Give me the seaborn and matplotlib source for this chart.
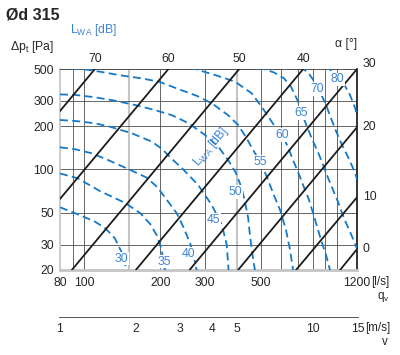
import numpy as np
import pandas as pd
import matplotlib
matplotlib.use("Agg")
import matplotlib.pyplot as plt
import matplotlib.ticker as mticker
import seaborn as sns

# ---------------- data ----------------
db_levels = [30, 35, 40, 45, 50, 55, 60, 65, 70, 80]

q_30 = [80, 92, 110, 121, 132, 140, 147]
dp_30 = [54.6, 49.6, 43.4, 39.0, 33.2, 26.8, 20]
q_35 = [80, 94, 115, 145, 166, 182, 194, 201, 206, 208]
dp_35 = [93.8, 86.9, 70.9, 58.5, 49.8, 41.8, 34.5, 28.5, 23.5, 20]
q_40 = [80, 92, 107, 124, 149, 176, 194, 212, 232, 246, 262, 272, 278]
dp_40 = [142.7, 138.2, 129.6, 116.4, 100.8, 88, 75.6, 61.4, 49.6, 40, 30.7, 24.2, 20]
q_45 = [80, 92, 110, 126, 154, 185, 203, 222, 243, 282, 319, 350, 366, 372]
dp_45 = [221, 217.5, 209.6, 198.5, 178.6, 156.1, 138.8, 118.3, 102.4, 78, 56.7, 41.1, 29.9, 20]
q_50 = [80, 92, 110, 132, 158.5, 190, 221.5, 258, 300, 339, 371, 398, 419, 432, 445, 452, 461, 473]
dp_50 = [333, 330, 318, 301, 281, 259, 239, 210, 174, 144, 116, 94.6, 74.4, 59.7, 45.8, 35, 26.7, 20]
q_55 = [80, 89, 103, 115, 141, 169, 199, 235, 279, 320, 370, 406, 436, 465, 496, 528, 558, 595, 628, 652, 670]
dp_55 = [512, 506, 494, 479, 450, 430, 406, 363, 325, 288, 239, 204, 168, 137, 113, 88.7, 68.6, 52.3, 38, 27.5, 20]
q_60 = [262, 282, 329, 395, 459, 503, 535, 568, 606, 640, 670, 701, 734, 775, 819, 865, 905, 938]
dp_60 = [516, 492, 454, 408, 339, 273, 233, 198.5, 174, 143, 116, 96.1, 78, 61.4, 44.6, 32.3, 25.4, 20]
q_65 = [487, 563, 617, 658, 688, 711, 724, 754, 796, 841, 881, 922, 965, 1010, 1047, 1086, 1126, 1168, 1222]
dp_65 = [516, 473, 430, 375, 319, 281, 247, 207, 163, 132, 107.5, 87.3, 72, 59.4, 49.8, 42.5, 36.8, 31.8, 25.9]
q_70 = [714, 775, 811, 838, 872, 905, 930, 956, 991, 1047, 1106, 1157, 1222]
dp_70 = [525, 462, 412, 363, 324, 281, 247, 217.5, 185, 148, 122, 102.4, 79.3]
q_80 = [897, 965, 1010, 1076, 1126, 1179, 1222]
dp_80 = [525, 477, 426, 381, 330, 268, 214]

label_q = [139.5, 206.5, 258, 324, 396, 495, 604, 724, 838, 1005]
label_dp = [24, 22.9, 26, 44.6, 69.7, 113.3, 173, 247, 365, 423]

alpha_vals = [70, 60, 50, 40, 30, 20, 10, 0]
alpha_q_start = [80, 80, 89.1, 159.7, 260.6, 405.6, 688, 1028]
alpha_dp_start = [255, 62.4, 20, 20, 20, 20, 20, 20]
alpha_q_end = [110, 215, 410, 735, 1200, 1200, 1200, 1200]
alpha_dp_end = [500, 500, 500, 500, 500, 196.6, 64.1, 27.9]

q_ticks = [80, 100, 200, 300, 500, 1200]
dp_ticks = [20, 30, 50, 100, 200, 300, 500]
q_grid = [90, 100, 200, 300, 500, 600, 700, 800, 900, 1000]
q_grid_light = [150, 400]
dp_grid = [30, 50, 100, 200, 300]
v_ticks = [1, 2, 3, 4, 5, 10, 15]
v_minor = [6, 7, 8, 9, 11, 12, 13, 14]
v_light = [4, 8]

# ---------------- style ----------------
sns.set_style("white")
plt.rcParams["font.family"] = ["Liberation Sans", "DejaVu Sans"]
plt.rcParams["mathtext.fontset"] = "custom"
plt.rcParams["mathtext.rm"] = "Liberation Sans"
plt.rcParams["mathtext.it"] = "Liberation Sans:italic"
plt.rcParams["mathtext.bf"] = "Liberation Sans:bold"

CURVE_BLUE = "#1479c9"
LABEL_BLUE = "#3f84d4"
GRID = "#4d4d4d"
LIGHT = "#c4c4c4"
FS = 8.8
FS_UNIT = 8.4

W, H = 400, 355
fig = plt.figure(figsize=(W / 100, H / 100), dpi=100)
ax = fig.add_axes([60 / W, 1 - 270 / H, 297 / W, 201 / H])
ax.set_xscale("log")
ax.set_yscale("log")
ax.set_xlim(80, 1200)
ax.set_ylim(20, 500)

for g in q_grid:
    ax.axvline(g, color=GRID, lw=0.6, zorder=1)
for g in q_grid_light:
    ax.axvline(g, color=LIGHT, lw=1.5, zorder=1)
for g in dp_grid:
    ax.axhline(g, color=GRID, lw=0.6, zorder=1)

# LWA curves
curves_q = [q_30, q_35, q_40, q_45, q_50, q_55, q_60, q_65, q_70, q_80]
curves_dp = [dp_30, dp_35, dp_40, dp_45, dp_50, dp_55, dp_60, dp_65, dp_70, dp_80]
rows = []
for lvl, qs, ps in zip(db_levels, curves_q, curves_dp):
    for q, p in zip(qs, ps):
        rows.append({"curve": lvl, "q": q, "dp": p})
df_lwa = pd.DataFrame(rows)
sns.lineplot(data=df_lwa, x="q", y="dp", units="curve", estimator=None, sort=False,
             color=CURVE_BLUE, lw=1.3, linestyle=(0, (4.4, 2.4)), ax=ax, zorder=3,
             legend=False)

# damper angle lines
rows = []
for a, q0, p0, q1, p1 in zip(alpha_vals, alpha_q_start, alpha_dp_start, alpha_q_end, alpha_dp_end):
    rows.append({"alpha": a, "q": q0, "dp": p0})
    rows.append({"alpha": a, "q": q1, "dp": p1})
df_a = pd.DataFrame(rows)
sns.lineplot(data=df_a, x="q", y="dp", units="alpha", estimator=None, sort=False,
             color="#1c1c1c", lw=1.3, ax=ax, zorder=4, legend=False)

# curve labels
for lvl, q, p in zip(db_levels, label_q, label_dp):
    ax.text(q, p, str(lvl), color=LABEL_BLUE, fontsize=FS, ha="center", va="center",
            bbox=dict(fc="white", ec="none", pad=0.6), zorder=6)

ax.text(317, 143, r"L$_{\mathrm{WA}}$ [dB]", rotation=50, rotation_mode="anchor",
        ha="center", va="center", color=LABEL_BLUE, fontsize=FS, zorder=6)

# alpha labels
for a, q1, p1 in zip(alpha_vals, alpha_q_end, alpha_dp_end):
    if q1 < 1200:
        ax.annotate(str(a), xy=(q1, p1), xytext=(0, 7.5), textcoords="offset points",
                    ha="center", va="center", fontsize=FS, annotation_clip=False)
    elif p1 >= 500:
        ax.annotate(str(a), xy=(q1, p1), xytext=(3.8, 3.6), textcoords="offset points",
                    ha="left", va="center", fontsize=FS, annotation_clip=False)
    else:
        ax.annotate(str(a), xy=(q1, p1), xytext=(4.2, 0), textcoords="offset points",
                    ha="left", va="center", fontsize=FS, annotation_clip=False)

# spines
ax.spines["left"].set_color(LIGHT)
ax.spines["left"].set_linewidth(1.2)
ax.spines["bottom"].set_color(LIGHT)
ax.spines["bottom"].set_linewidth(2.0)
ax.spines["top"].set_color(GRID)
ax.spines["top"].set_linewidth(0.7)
ax.spines["right"].set_color("#111111")
ax.spines["right"].set_linewidth(1.2)

ax.set_xticks(q_ticks)
ax.set_xticklabels([str(t) for t in q_ticks])
ax.set_yticks(dp_ticks)
ax.set_yticklabels([str(t) for t in dp_ticks])
ax.xaxis.set_minor_locator(mticker.NullLocator())
ax.yaxis.set_minor_locator(mticker.NullLocator())
ax.tick_params(axis="both", which="both", length=0, labelsize=FS)
ax.tick_params(axis="x", pad=5)
ax.tick_params(axis="y", pad=4.5)
ax.set_xlabel("")
ax.set_ylabel("")

# velocity axis
axv = fig.add_axes([59.3 / W, 1 - 316.7 / H, 298.4 / W, 0.0001])
axv.set_xscale("log")
axv.set_xlim(1, 15)
axv.set_yticks([])
axv.patch.set_visible(False)
for s in ["left", "right", "top"]:
    axv.spines[s].set_visible(False)
axv.spines["bottom"].set_color("#555555")
axv.spines["bottom"].set_linewidth(0.7)
axv.set_xticks(v_ticks)
axv.set_xticklabels([str(v) for v in v_ticks])
axv.set_xticks(v_minor, minor=True)
axv.xaxis.set_minor_formatter(mticker.NullFormatter())
axv.tick_params(axis="x", which="both", direction="in", length=7.2, width=0.6,
                color="#333333", pad=4.5, labelsize=FS)
for t, v in zip(axv.xaxis.get_major_ticks(), v_ticks):
    if v in v_light:
        t.tick1line.set_color(LIGHT)
        t.tick1line.set_markeredgewidth(1.6)
for t, v in zip(axv.xaxis.get_minor_ticks(), v_minor):
    if v in v_light:
        t.tick1line.set_color(LIGHT)
        t.tick1line.set_markeredgewidth(1.6)

# header texts
fig.text(6 / W, 1 - 14.5 / H, "Ød 315", fontsize=11.5, weight="bold", ha="left", va="center")
fig.text(70 / W, 1 - 30 / H, r"L$_{\mathrm{WA}}$ [dB]", fontsize=FS, color=LABEL_BLUE,
         ha="left", va="center")
fig.text(54 / W, 1 - 47 / H, r"Δp$_{\mathrm{t}}$ [Pa]", fontsize=FS, ha="right", va="center")
fig.text(357 / W, 1 - 44 / H, "α [°]", fontsize=FS, ha="right", va="center")
fig.text(371 / W, 1 - 282.5 / H, "[l/s]", fontsize=FS_UNIT, ha="left", va="center")
fig.text(383 / W, 1 - 296.5 / H, r"q$_{\mathrm{v}}$", fontsize=FS_UNIT, ha="center", va="center")
fig.text(365 / W, 1 - 328 / H, "[m/s]", fontsize=FS_UNIT, ha="left", va="center")
fig.text(385 / W, 1 - 342 / H, "v", fontsize=FS_UNIT, ha="center", va="center")

fig.savefig("out.png", dpi=100)
